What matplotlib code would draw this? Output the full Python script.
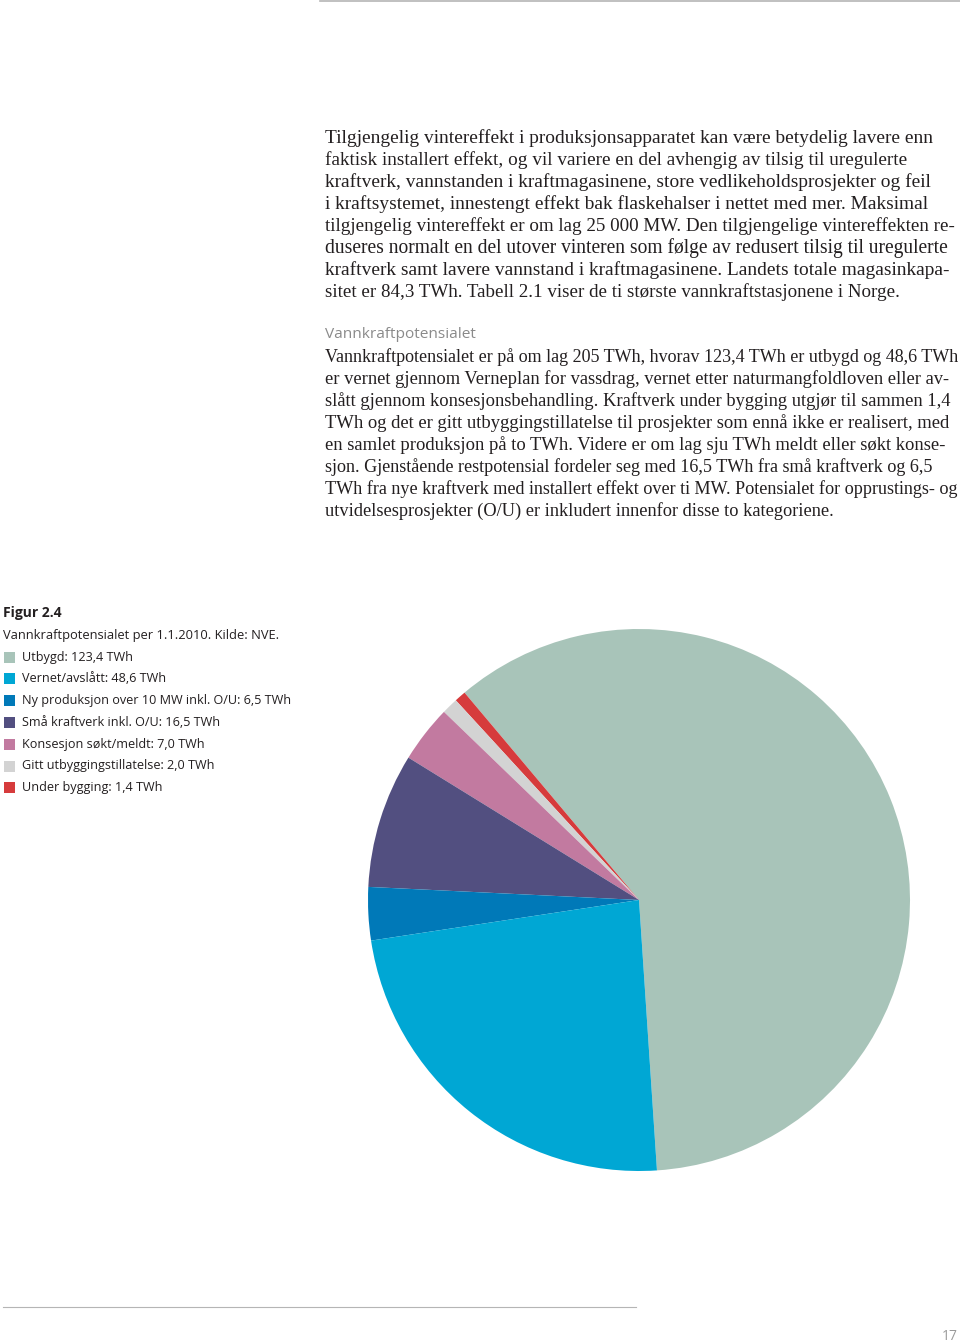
import matplotlib
matplotlib.use("Agg")
import matplotlib.pyplot as plt

# data for the pie (TWh), in drawing order (counter-clockwise from bottom)
labels = ["Utbygd: 123,4 TWh", "Under bygging: 1,4 TWh", "Gitt utbyggingstillatelse: 2,0 TWh",
          "Konsesjon søkt/meldt: 7,0 TWh", "Små kraftverk inkl. O/U: 16,5 TWh",
          "Ny produksjon over 10 MW inkl. O/U: 6,5 TWh", "Vernet/avslått: 48,6 TWh"]
values = [123.4, 1.4, 2.0, 7.0, 16.5, 6.5, 48.6]
colors = ["#a8c4b9", "#d63b3c", "#d3d3d3", "#c27aa0", "#524f80", "#0079b8", "#00a7d4"]

# legend order as printed
legend_order = [0, 6, 5, 4, 3, 2, 1]

para1 = [
    "Tilgjengelig vintereffekt i produksjonsapparatet kan være betydelig lavere enn",
    "faktisk installert effekt, og vil variere en del avhengig av tilsig til uregulerte",
    "kraftverk, vannstanden i kraftmagasinene, store vedlikeholdsprosjekter og feil",
    "i kraftsystemet, innestengt effekt bak flaskehalser i nettet med mer. Maksimal",
    "tilgjengelig vintereffekt er om lag 25 000 MW. Den tilgjengelige vintereffekten re-",
    "duseres normalt en del utover vinteren som følge av redusert tilsig til uregulerte",
    "kraftverk samt lavere vannstand i kraftmagasinene. Landets totale magasinkapa-",
    "sitet er 84,3 TWh. Tabell 2.1 viser de ti største vannkraftstasjonene i Norge.",
]
heading = "Vannkraftpotensialet"
para2 = [
    "Vannkraftpotensialet er på om lag 205 TWh, hvorav 123,4 TWh er utbygd og 48,6 TWh",
    "er vernet gjennom Verneplan for vassdrag, vernet etter naturmangfoldloven eller av-",
    "slått gjennom konsesjonsbehandling. Kraftverk under bygging utgjør til sammen 1,4",
    "TWh og det er gitt utbyggingstillatelse til prosjekter som ennå ikke er realisert, med",
    "en samlet produksjon på to TWh. Videre er om lag sju TWh meldt eller søkt konse-",
    "sjon. Gjenstående restpotensial fordeler seg med 16,5 TWh fra små kraftverk og 6,5",
    "TWh fra nye kraftverk med installert effekt over ti MW. Potensialet for opprustings- og",
    "utvidelsesprosjekter (O/U) er inkludert innenfor disse to kategoriene.",
]
# right edge of each printed line (px), used to fit the serif font
ends1 = [930, 909, 928, 927, 956, 947, 947, 900]
ends2 = [957, 948, 950, 950, 944, 935, 957, 832]

W, H = 960, 1344
fig = plt.figure(figsize=(W / 100, H / 100), dpi=100)
renderer = fig.canvas.get_renderer()

def fx(x):
    return x / W

def fy(y):
    return 1 - y / H

serif = "Liberation Serif"
sans = "Open Sans"
txt = "#231f20"

def fitted(x, y, s, right, size):
    t = fig.text(fx(x), fy(y), s, family=serif, size=size, color=txt, va="center")
    w = t.get_window_extent(renderer).width
    t.set_fontsize(size * (right - x) / w)
    return t

# body text
for i, line in enumerate(para1):
    fitted(325, 138.5 + i * 21.9, line, ends1[i], 13.6)
fig.text(fx(325), fy(334), heading, family=sans, size=11.1, color="#8a8a8a", va="center")
for i, line in enumerate(para2):
    fitted(325, 357.5 + i * 21.9, line, ends2[i], 13.6)

# figure caption + legend
fig.text(fx(3), fy(613), "Figur 2.4", family=sans, size=10, weight="bold", color=txt, va="center")
fig.text(fx(3), fy(635), "Vannkraftpotensialet per 1.1.2010. Kilde: NVE.", family=sans, size=9.25,
         color=txt, va="center")
for k, idx in enumerate(legend_order):
    y = 657 + k * 21.8
    fig.patches.append(plt.Rectangle((fx(4), fy(y + 5.5)), 11 / W, 11 / H, transform=fig.transFigure,
                                     facecolor=colors[idx], edgecolor="none"))
    fig.text(fx(22), fy(y), labels[idx], family=sans, size=9.1, color=txt, va="center")

# rules and page number
fig.add_artist(plt.Line2D([fx(320), fx(960)], [fy(0.5), fy(0.5)], color="#b5b5b5", lw=1.2))
fig.add_artist(plt.Line2D([fx(3), fx(636)], [fy(1307), fy(1307)], color="#b5b5b5", lw=0.8))
fig.text(fx(958), fy(1336), "17", family=sans, size=10, color="#9a9a9a", ha="right", va="center")

# pie
cx, cy, r = 639, 900, 271
ax = fig.add_axes([fx(cx - r), fy(cy + r), 2 * r / W, 2 * r / H])
ax.pie(values, colors=colors, startangle=-86.2, counterclock=True,
       wedgeprops=dict(linewidth=0))
ax.set_xlim(-1, 1)
ax.set_ylim(-1, 1)
ax.axis("off")

fig.savefig("out.png", dpi=100)
